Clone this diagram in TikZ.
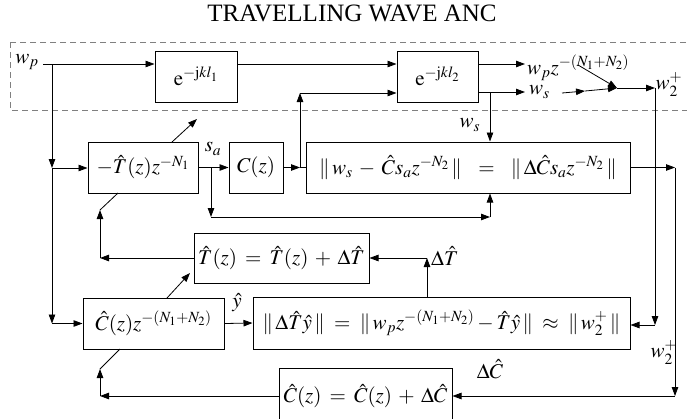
\documentclass[tikz,border=0pt]{standalone}
\usepackage{mathptmx}
\usepackage[no-math]{fontspec}
\setmainfont{Liberation Serif}
\usetikzlibrary{arrows.meta}
\newcommand{\bigfont}{\fontsize{21}{24}\selectfont}
\newcommand{\widefont}{\fontsize{21}{24}\selectfont\medmuskip=5.5mu plus 2mu minus 2mu\thickmuskip=7mu plus 3mu}
\begin{document}
\begin{tikzpicture}[x=1pt,y=-1pt,
  blk/.style={draw,line width=1pt,minimum height=51pt,inner sep=2pt,font=\bigfont},
  wblk/.style={blk,font=\widefont},
  lbl/.style={inner sep=0pt,font=\bigfont},
  conn/.style={line width=0.8pt},
  arr/.style={conn,-{Triangle[length=9pt,width=6.5pt]}},
  frame/.style={draw=gray,line width=1pt,dash pattern=on 6pt off 4pt}]
\useasboundingbox (0,0) rectangle (687,418);
\clip (0,0) rectangle (687,418);
% title
\node[inner sep=0pt,font=\fontsize{25}{27}\selectfont] (title) at (352,13) {TRAVELLING WAVE ANC};
% dashed frame
\draw[frame] (10,42) rectangle (720,110);
% blocks
\node[blk,minimum width=82pt] (b1) at (196,76.5) {$\mathrm{e}^{-\mathrm{j}kl_1}$};
\node[blk,minimum width=81pt] (b2) at (437.5,76.5) {$\mathrm{e}^{-\mathrm{j}kl_2}$};
\node[blk,minimum width=110pt] (bT) at (143,167.5) {$-\hat{T}(z)z^{-N_1}$};
\node[blk,minimum width=54pt] (bC) at (256,167.5) {$C(z)$};
\node[wblk,minimum width=324pt] (b3) at (468,167.5) {$\|\,w_s-\hat{C}s_az^{-N_2}\,\|\;=\;\|\,\Delta\hat{C}s_az^{-N_2}\,\|$};
\node[wblk,minimum width=175pt,minimum height=50pt] (b4) at (281.5,258) {$\hat{T}(z)=\hat{T}(z)+\Delta\hat{T}$};
\node[blk,minimum width=141pt] (bCh) at (153.5,323.5) {$\hat{C}(z)z^{-(N_1+N_2)}$};
\node[blk,minimum width=377pt,minimum height=52pt] (b5) at (441.5,323) {$\|\,\Delta\hat{T}\hat{y}\,\|\;=\;\|\,w_pz^{-(N_1+N_2)}-\hat{T}\hat{y}\,\|\;\approx\;\|\,w_2^+\,\|$};
\node[wblk,minimum width=173pt,minimum height=56pt] (b7) at (365.5,396) {$\hat{C}(z)=\hat{C}(z)+\Delta\hat{C}$};
% labels
\node[lbl] (lwp) at (27,62) {$w_p$};
\node[lbl,anchor=west] (lwpz) at (527,68) {$w_pz^{-(N_1+N_2)}$};
\node[lbl,anchor=west] (lws) at (529,92) {$w_s$};
\node[lbl] (lw2a) at (669,84) {$w_2^+$};
\node[lbl] (lws2) at (470,125) {$w_s$};
\node[lbl] (lsa) at (213,149) {$s_a$};
\node[lbl,anchor=west] (ldT) at (431,256) {$\Delta\hat{T}$};
\node[lbl] (lyh) at (237,303) {$\hat{y}$};
\node[lbl] (lw2b) at (664,352) {$w_2^+$};
\node[lbl] (ldC) at (490,369) {$\Delta\hat{C}$};
% coordinates
\coordinate (wpS) at (43,64);
\coordinate (j1) at (52,64);
\coordinate (j2) at (52,168);
\coordinate (j3) at (52,323.5);
\coordinate (cu) at (300,167.5);
\coordinate (cu2) at (300,93);
\coordinate (o1) at (525,64);
\coordinate (o2) at (525,92);
\coordinate (ws1) at (562,93);
\coordinate (ws2) at (585,91);
\coordinate (zd) at (578,65);
\coordinate (sum) at (617,88);
\coordinate (w2r) at (655,88);
\coordinate (w2d) at (655,325);
\coordinate (wsb) at (490,92);
\coordinate (sa1) at (211,167.5);
\coordinate (sa2) at (211,217);
\coordinate (sa3) at (490,217);
\coordinate (tA1) at (172,142);
\coordinate (tA2) at (197,119);
\coordinate (tB1) at (118,193);
\coordinate (tB2) at (100,210);
\coordinate (tB3) at (100,258);
\coordinate (dT1) at (427,258);
\coordinate (cA1) at (167,298);
\coordinate (cA2) at (190,273);
\coordinate (cB1) at (120,349);
\coordinate (cB2) at (100,369);
\coordinate (cB3) at (100,396);
\coordinate (r1) at (675,167.5);
\coordinate (r2) at (675,396);
% connectors top
\draw[arr] (wpS) -- (b1.west|-wpS);
\draw[arr] (b1.east|-wpS) -- (b2.west|-wpS);
\draw[arr] (bC.east) -- (cu);
\draw[conn] (cu) -- (b3.west);
\draw[arr] (cu) -- (cu2);
\draw[arr] (cu2) -- (b2.west|-cu2);
\draw[arr] (b2.east|-o1) -- (o1);
\draw[arr] (b2.east|-o2) -- (o2);
\draw[arr] (ws1) -- (ws2);
\draw[arr] (ws2) -- (sum);
\draw[arr] (zd) -- (sum);
\draw[arr] (sum) -- (w2r);
\draw[arr] (w2r) -- (w2d);
\draw[arr] (w2d) -- (b5.east|-w2d);
\draw[arr] (wsb) -- (b3.north-|wsb);
% left feed
\draw[arr] (j1) -- (j2);
\draw[arr] (j2) -- (bT.west|-j2);
\draw[arr] (j2) -- (j3);
\draw[arr] (j3) -- (bCh.west);
% s_a
\draw[arr] (bT.east) -- (bC.west);
\draw[arr] (sa1) -- (sa2);
\draw[arr] (sa2) -- (sa3);
\draw[arr] (sa3) -- (b3.south-|sa3);
% T adaptation
\draw[arr] (tA1) -- (tA2);
\draw[conn] (tB1) -- (tB2);
\draw[arr] (b4.west) -- (tB3);
\draw[arr] (tB3) -- (tB2);
\draw[arr] (b5.north-|dT1) -- (dT1);
\draw[arr] (dT1) -- (b4.east);
% C adaptation
\draw[arr] (cA1) -- (cA2);
\draw[conn] (cB1) -- (cB2);
\draw[arr] (b7.west) -- (cB3);
\draw[arr] (cB3) -- (cB2);
\draw[arr] (bCh.east) -- (b5.west);
\draw[arr] (b3.east) -- (r1);
\draw[arr] (r1) -- (r2);
\draw[arr] (r2) -- (b7.east);
\end{tikzpicture}
\end{document}
